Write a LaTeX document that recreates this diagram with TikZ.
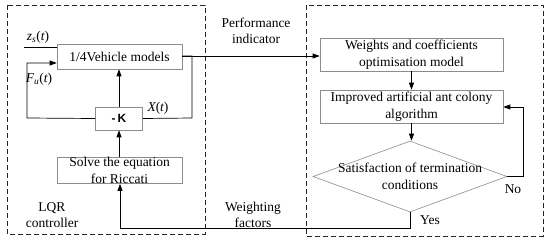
\documentclass[tikz,border=0pt]{standalone}
\usepackage{fontspec}
\setmainfont{Liberation Serif}
\newfontfamily\tms{Liberation Serif}
\newfontfamily\kfont{Liberation Sans}
\usetikzlibrary{arrows.meta,shapes.geometric}
\newcommand{\iv}[1]{{\itshape #1}}
\begin{document}
\begin{tikzpicture}[x=1pt,y=-1pt,
  font=\tms\fontsize{13.5}{16.5}\selectfont,
  blk/.style={draw=black!45, line width=0.6pt, align=center, inner sep=0pt, minimum width=125pt},
  grp/.style={draw=black!85, dashed, dash pattern=on 5pt off 3pt, line width=0.9pt},
  ln/.style={line width=0.7pt},
  arr/.style={ln, -{Triangle[length=7pt,width=5pt]}},
  lbl/.style={align=center, inner sep=0pt}]
\useasboundingbox (0,0) rectangle (550,242);
% group boxes
\draw[grp] (7,5) rectangle (205,234);
\draw[grp] (306,5) rectangle (543,236);
% blocks
\node[blk, minimum height=25pt] (veh) at (119.5,56.5) {1/4Vehicle models};
\node[blk, minimum width=47pt, minimum height=23pt, font=\kfont\fontsize{12}{14}\selectfont\bfseries] (K) at (119,118.5) {-\,K};
\node[blk, minimum height=25pt] (ric) at (119.5,170.5) {Solve the equation\\for Riccati};
\node[blk, minimum width=183pt, minimum height=33pt] (wts) at (411.5,54.5) {Weights and coefficients\\optimisation model};
\node[blk, minimum width=183pt, minimum height=33pt] (aco) at (411.5,106.5) {Improved artificial ant colony\\algorithm};
\node[draw=black!45, line width=0.6pt, diamond, aspect=2.73, inner sep=0pt, minimum width=194pt, minimum height=71pt] (dia) at (410,176.5) {};
\node[lbl] at (410,176.5) {Satisfaction of termination\\conditions};
% coordinates
\coordinate (zs) at (24,47);
\coordinate (xr) at (192,56);
\coordinate (xb) at (192,118);
\coordinate (fl) at (27,118);
\coordinate (ft) at (27,63);
\coordinate (yb) at (410,228);
\coordinate (rb) at (120,228);
\coordinate (nr) at (523,176.5);
\coordinate (nt) at (523,107);
% connectors
\draw[ln] (zs) -- (zs -| veh.west);
\draw[arr] (K.west) -- (fl) -- (ft) -- (ft -| veh.west);
\draw[ln] (veh.east |- xr) -- (xr) -- (xb) -- (K.east);
\draw[arr] (veh.east |- xr) -- (xr -| wts.west);
\draw[arr] (K.north) -- (veh.south -| K.north);
\draw[arr] (ric.north -| K.south) -- (K.south);
\draw[arr] (dia.south) -- (yb) -- (rb) -- (rb |- ric.south);
\draw[arr] (wts.south) -- (aco.north);
\draw[arr] (aco.south) -- (dia.north -| aco.south);
\draw[arr] (dia.east) -- (nr) -- (nt) -- (nt -| aco.east);
% labels
\node[lbl] (zsl) at (38,37) {\iv{z}\textsubscript{\iv{s}}(\iv{t})};
\node[lbl] (ful) at (39,79) {\iv{F}\textsubscript{\iv{u}}(\iv{t})};
\node[lbl] (xtl) at (158,108) {\iv{X}(\iv{t})};
\node[lbl] (pi) at (256,31) {Performance\\indicator};
\node[lbl] (wf) at (253,215) {Weighting\\factors};
\node[lbl] (lqr) at (52,215) {LQR\\controller};
\node[lbl] (no) at (513,189) {No};
\node[lbl] (yes) at (430,220) {Yes};
\end{tikzpicture}
\end{document}
